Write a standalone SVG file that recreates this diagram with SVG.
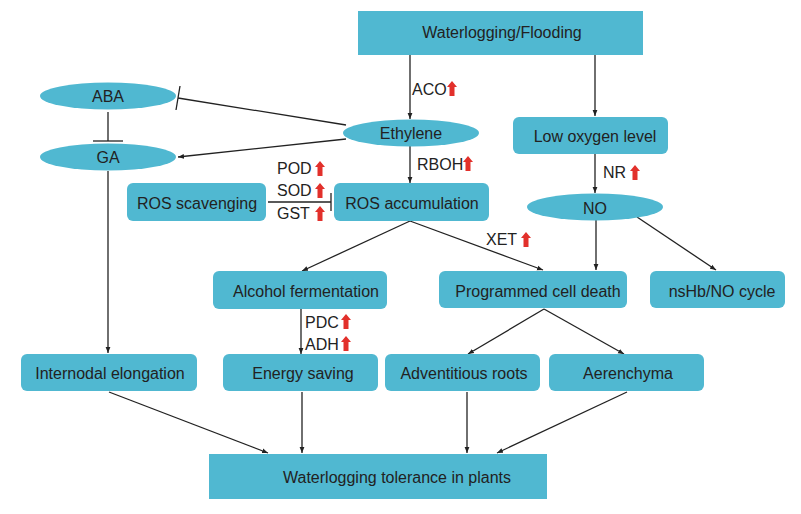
<svg xmlns="http://www.w3.org/2000/svg" width="801" height="514" viewBox="0 0 801 514">
<defs>
<style>
.box{fill:#50B8D1;}
.t{font-family:"Liberation Sans",Arial,sans-serif;font-size:16px;fill:#222;text-anchor:middle;}
.lb{font-family:"Liberation Sans",Arial,sans-serif;font-size:16px;fill:#222;}
.c{stroke:#222;stroke-width:1.3;fill:none;}
.up{fill:#E2302B;}
</style>
<marker id="ah" viewBox="0 0 10 10" refX="10" refY="5" markerWidth="6" markerHeight="6" markerUnits="userSpaceOnUse" orient="auto">
<path d="M0,1 L10,5 L0,9 Z" fill="#222"/>
</marker>
<path id="red" d="M-2.5,0 V-9 H-5 L0,-15 L5,-9 H2.5 V0 Z"/>
</defs>
<rect width="801" height="514" fill="#fff"/>

<g id="connectors">
<line class="c" x1="410" y1="55" x2="410" y2="119" marker-end="url(#ah)"/>
<line class="c" x1="595" y1="55" x2="595" y2="116" marker-end="url(#ah)"/>
<line class="c" x1="346" y1="125" x2="178" y2="98"/>
<line class="c" x1="180" y1="86" x2="176" y2="110"/>
<line class="c" x1="346" y1="139" x2="178" y2="157" marker-end="url(#ah)"/>
<line class="c" x1="108" y1="112" x2="108" y2="141"/>
<line class="c" x1="93" y1="141" x2="123" y2="141"/>
<line class="c" x1="410" y1="146" x2="410" y2="183" marker-end="url(#ah)"/>
<line class="c" x1="268" y1="202" x2="331" y2="202"/>
<line class="c" x1="331" y1="193" x2="331" y2="211"/>
<line class="c" x1="595" y1="154" x2="595" y2="193" marker-end="url(#ah)"/>
<line class="c" x1="410" y1="221" x2="302" y2="271" marker-end="url(#ah)"/>
<line class="c" x1="410" y1="221" x2="543" y2="270" marker-end="url(#ah)"/>
<line class="c" x1="596" y1="220" x2="596" y2="270" marker-end="url(#ah)"/>
<line class="c" x1="637" y1="217" x2="716" y2="270" marker-end="url(#ah)"/>
<line class="c" x1="108" y1="171" x2="108" y2="353" marker-end="url(#ah)"/>
<line class="c" x1="301" y1="309" x2="301" y2="354" marker-end="url(#ah)"/>
<line class="c" x1="544" y1="309" x2="468" y2="354" marker-end="url(#ah)"/>
<line class="c" x1="544" y1="309" x2="624" y2="354" marker-end="url(#ah)"/>
<line class="c" x1="109" y1="392" x2="268" y2="453" marker-end="url(#ah)"/>
<line class="c" x1="302" y1="392" x2="302" y2="453" marker-end="url(#ah)"/>
<line class="c" x1="467" y1="392" x2="467" y2="453" marker-end="url(#ah)"/>
<line class="c" x1="627" y1="392" x2="497" y2="453" marker-end="url(#ah)"/>
</g>

<g id="labels">
<text class="lb" x="412" y="95">ACO</text><use href="#red" class="up" x="452" y="96"/>
<text class="lb" x="417" y="170">RBOH</text><use href="#red" class="up" x="468" y="171"/>
<text class="lb" x="603" y="178">NR</text><use href="#red" class="up" x="635" y="180"/>
<text class="lb" x="486" y="245">XET</text><use href="#red" class="up" x="526" y="247"/>
<text class="lb" x="277" y="174">POD</text><use href="#red" class="up" x="320" y="176"/>
<text class="lb" x="277" y="196">SOD</text><use href="#red" class="up" x="320" y="198"/>
<text class="lb" x="277" y="219">GST</text><use href="#red" class="up" x="320" y="221"/>
<text class="lb" x="305" y="328">PDC</text><use href="#red" class="up" x="346" y="329"/>
<text class="lb" x="305" y="350">ADH</text><use href="#red" class="up" x="346" y="351"/>
</g>

<g id="waterlogging"><rect class="box" x="358" y="11" width="285" height="44"/><text class="t" x="502" y="38">Waterlogging/Flooding</text></g>
<g id="aba"><ellipse class="box" cx="108" cy="96" rx="68" ry="13.5"/><text class="t" x="108" y="102">ABA</text></g>
<g id="ga"><ellipse class="box" cx="108" cy="157" rx="68" ry="13.5"/><text class="t" x="108" y="163">GA</text></g>
<g id="ethylene"><ellipse class="box" cx="411" cy="133" rx="68" ry="13.5"/><text class="t" x="411" y="139">Ethylene</text></g>
<g id="ros-scavenging"><rect class="box" x="127" y="183" width="139" height="38" rx="6"/><text class="t" x="197" y="209">ROS scavenging</text></g>
<g id="ros-accumulation"><rect class="box" x="334" y="183" width="155" height="38" rx="6"/><text class="t" x="412" y="209">ROS accumulation</text></g>
<g id="low-oxygen"><rect class="box" x="513" y="117" width="155" height="37" rx="6"/><text class="t" x="595" y="142">Low oxygen level</text></g>
<g id="no"><ellipse class="box" cx="595" cy="207" rx="68" ry="13.5"/><text class="t" x="595" y="214">NO</text></g>
<g id="alcohol"><rect class="box" x="213" y="271" width="174" height="38" rx="6"/><text class="t" x="306" y="297">Alcohol fermentation</text></g>
<g id="pcd"><rect class="box" x="439" y="271" width="188" height="37" rx="6"/><text class="t" x="538" y="297">Programmed cell death</text></g>
<g id="nshb"><rect class="box" x="650" y="271" width="135" height="37" rx="6"/><text class="t" x="722" y="297">nsHb/NO cycle</text></g>
<g id="internodal"><rect class="box" x="21" y="354" width="176" height="37" rx="6"/><text class="t" x="110" y="379">Internodal elongation</text></g>
<g id="energy"><rect class="box" x="223" y="354" width="155" height="37" rx="6"/><text class="t" x="303" y="379">Energy saving</text></g>
<g id="adventitious"><rect class="box" x="385" y="354" width="155" height="37" rx="6"/><text class="t" x="464" y="379">Adventitious roots</text></g>
<g id="aerenchyma"><rect class="box" x="549" y="354" width="155" height="37" rx="6"/><text class="t" x="628" y="379">Aerenchyma</text></g>
<g id="tolerance"><rect class="box" x="209" y="454" width="338" height="45"/><text class="t" x="397" y="483">Waterlogging tolerance in plants</text></g>
</svg>
